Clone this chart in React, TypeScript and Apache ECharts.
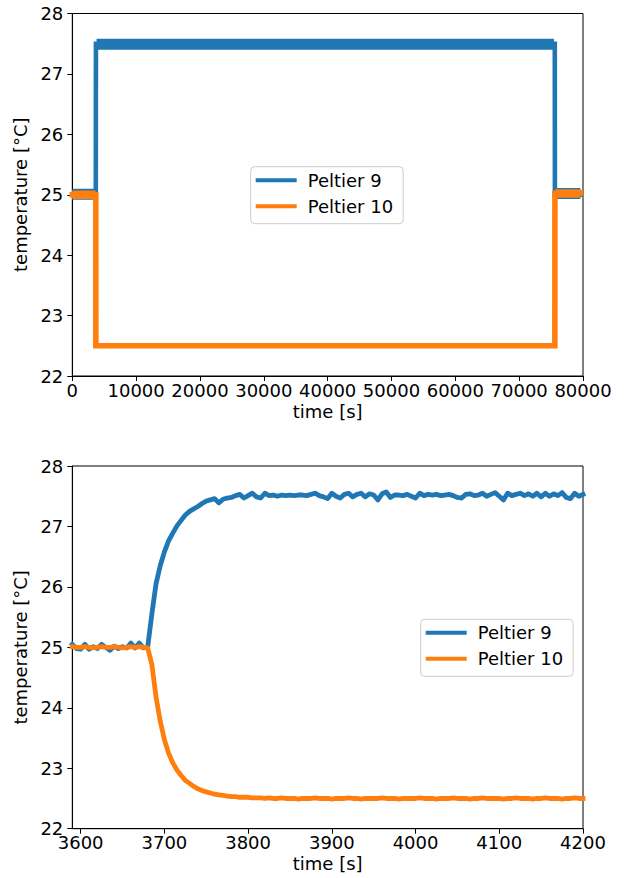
import React, { useEffect, useRef } from "react";
import * as echarts from "echarts";

const FONT = '"DejaVu Sans", sans-serif';
const BLUE = "#1f77b4";
const ORANGE = "#ff7f0e";

// ---------- overview (top) ----------
const OVERVIEW_X_TICKS_INTERVAL = 10000;
const P9_OVERVIEW_T = [0, 3680, 3700, 75580, 75600, 79600];
const P9_OVERVIEW_V = [25.0, 25.0, 27.5, 27.5, 25.0, 25.0];
// noise band (thickness of the noisy trace)
const P9_BAND_T = [0, 3600, 3700, 3800, 75450, 75600, 75750, 79600];
const P9_BAND_V = [25.01, 25.01, null, 27.49, 27.49, null, 25.02, 25.02];

const P10_OVERVIEW_T = [0, 3680, 3690, 75590, 75600, 79600];
const P10_OVERVIEW_V = [25.0, 25.0, 22.5, 22.5, 25.02, 25.03];
const P10_BAND_T = [0, 3640, 3700, 75640, 79600];
const P10_BAND_V = [25.0, 25.0, null, 25.02, 25.02];

// ---------- detail (bottom) ----------
const DETAIL_X_TICKS = [3600, 3700, 3800, 3900, 4000, 4100, 4200];
const DETAIL_T = [
  3590, 3595, 3600, 3605, 3610, 3615, 3620, 3625, 3630, 3635,
  3640, 3645, 3650, 3655, 3660, 3665, 3670, 3675, 3680, 3685,
  3690, 3695, 3700, 3705, 3710, 3715, 3720, 3725, 3730, 3735,
  3740, 3745, 3750, 3755, 3760, 3765, 3770, 3775, 3780, 3785,
  3790, 3795,
  3800, 3805, 3810, 3815, 3820, 3825, 3830, 3835, 3840, 3845,
  3850, 3855, 3860, 3865, 3870, 3875, 3880, 3885, 3890, 3895,
  3900, 3905, 3910, 3915, 3920, 3925, 3930, 3935, 3940, 3945,
  3950, 3955, 3960, 3965, 3970, 3975, 3980, 3985, 3990, 3995,
  4000, 4005, 4010, 4015, 4020, 4025, 4030, 4035, 4040, 4045,
  4050, 4055, 4060, 4065, 4070, 4075, 4080, 4085, 4090, 4095,
  4100, 4105, 4110, 4115, 4120, 4125, 4130, 4135, 4140, 4145,
  4150, 4155, 4160, 4165, 4170, 4175, 4180, 4185, 4190, 4195,
  4200,
];
const P9_DETAIL = [
  25.05, 24.98, 24.97, 25.05, 24.97, 25.01, 24.98, 25.05, 25.0, 24.95,
  25.02, 24.98, 25.01, 24.99, 25.07, 24.99, 25.07, 24.99, 25.0, 25.55,
  26.05, 26.35, 26.58, 26.76, 26.89, 27.01, 27.1, 27.19, 27.25, 27.29,
  27.33, 27.38, 27.42, 27.44, 27.46, 27.39, 27.45, 27.47, 27.48, 27.51,
  27.53, 27.47,
  27.51, 27.55, 27.49, 27.47, 27.55, 27.51, 27.52, 27.5, 27.52, 27.51,
  27.52, 27.51, 27.52, 27.52, 27.51, 27.53, 27.55, 27.51, 27.49, 27.46,
  27.55, 27.5, 27.47, 27.53, 27.55, 27.49, 27.53, 27.55, 27.49, 27.54,
  27.52, 27.44, 27.54, 27.57, 27.48, 27.52, 27.52, 27.51, 27.53, 27.5,
  27.47, 27.55, 27.51, 27.53, 27.52, 27.53, 27.51, 27.52, 27.53, 27.51,
  27.48, 27.47, 27.53, 27.54, 27.51, 27.52, 27.55, 27.5, 27.53, 27.56,
  27.5, 27.44, 27.55, 27.51, 27.53, 27.55, 27.51, 27.54, 27.5, 27.55,
  27.49, 27.55, 27.5, 27.54, 27.51, 27.56, 27.48, 27.46, 27.55, 27.5,
  27.53,
];
const P10_DETAIL = [
  25.01, 25.0, 25.0, 25.01, 25.0, 24.99, 25.0, 25.01, 25.0, 25.0,
  25.01, 25.0, 24.99, 25.0, 25.01, 25.0, 25.01, 25.0, 24.99, 24.72,
  24.18, 23.78, 23.47, 23.25, 23.09, 22.97, 22.88, 22.8, 22.75, 22.7,
  22.66, 22.63, 22.61, 22.59, 22.57, 22.56, 22.55, 22.54, 22.53, 22.53,
  22.52, 22.52,
  22.52, 22.51, 22.51, 22.51, 22.5, 22.51, 22.5, 22.5, 22.51, 22.5,
  22.5, 22.5, 22.49, 22.5, 22.5, 22.5, 22.51, 22.5, 22.5, 22.5,
  22.49, 22.5, 22.5, 22.5, 22.51, 22.5, 22.5, 22.49, 22.5, 22.5,
  22.5, 22.5, 22.51, 22.5, 22.5, 22.5, 22.49, 22.5, 22.5, 22.5,
  22.5, 22.51, 22.5, 22.5, 22.5, 22.49, 22.5, 22.5, 22.5, 22.51,
  22.5, 22.5, 22.5, 22.49, 22.5, 22.5, 22.51, 22.5, 22.5, 22.5,
  22.5, 22.49, 22.5, 22.5, 22.51, 22.5, 22.5, 22.5, 22.49, 22.5,
  22.5, 22.51, 22.5, 22.5, 22.5, 22.49, 22.5, 22.5, 22.51, 22.5,
  22.5,
];

const LEGEND_NAMES = ["Peltier 9", "Peltier 10"];
const Y_LABEL = "temperature [°C]";
const X_LABEL = "time [s]";

function pairs(t: number[], v: (number | null)[]) {
  return t.map((x, i) => [x, v[i] === null ? "-" : v[i]]);
}

const textBase = { fontFamily: FONT, fontSize: 18, color: "#000" };
const plainNum = (v: number) => String(Math.round(v));

function xAxisCfg(gridIndex: number, extra: any) {
  return {
    type: "value",
    gridIndex,
    name: X_LABEL,
    nameLocation: "middle",
    nameGap: 26,
    nameTextStyle: { ...textBase },
    axisLine: { show: true, onZero: false, lineStyle: { color: "#000", width: 1 } },
    axisTick: { show: true, inside: false, length: 5, lineStyle: { color: "#000", width: 1 } },
    axisLabel: { ...textBase, margin: 5, showMinLabel: true, showMaxLabel: true, formatter: plainNum },
    splitLine: { show: false },
    ...extra,
  };
}

function yAxisCfg(gridIndex: number) {
  return {
    type: "value",
    gridIndex,
    min: 22,
    max: 28,
    interval: 1,
    name: Y_LABEL,
    nameLocation: "middle",
    nameGap: 34,
    nameRotate: 90,
    nameTextStyle: { ...textBase },
    axisLine: { show: true, onZero: false, lineStyle: { color: "#000", width: 1 } },
    axisTick: { show: true, inside: false, length: 5, lineStyle: { color: "#000", width: 1 } },
    axisLabel: { ...textBase, margin: 9, formatter: plainNum },
    splitLine: { show: false },
  };
}

function legendCfg(left: number, top: number) {
  return {
    show: true,
    orient: "vertical",
    left,
    top,
    data: LEGEND_NAMES,
    icon: "rect",
    itemWidth: 41,
    itemHeight: 4,
    itemGap: 5,
    padding: [3, 10, 7, 5],
    backgroundColor: "rgba(255,255,255,0.8)",
    borderColor: "#cccccc",
    borderWidth: 1,
    borderRadius: 4,
    selectedMode: false,
    textStyle: { ...textBase, lineHeight: 21, padding: [0, 0, 0, 6] },
  };
}

function lineSeries(name: string, color: string, data: any[], xi: number, width: number, extra: any = {}) {
  return {
    type: "line",
    name,
    xAxisIndex: xi,
    yAxisIndex: xi,
    data,
    color,
    showSymbol: false,
    symbol: "none",
    clip: true,
    connectNulls: false,
    itemStyle: { color },
    lineStyle: { color, width, cap: "square", join: "round" },
    emphasis: { disabled: true },
    ...extra,
  };
}

export default function App() {
  const ref = useRef<HTMLDivElement>(null);
  useEffect(() => {
    document.body.style.margin = "0";
    if (!ref.current) return;
    const chart = echarts.init(ref.current, null, { renderer: "svg" });
    const option = {
      animation: false,
      backgroundColor: "#ffffff",
      grid: [
        { left: 72.3, top: 13.5, width: 510.7, height: 362.5, show: true, borderColor: "#000", borderWidth: 1, backgroundColor: "transparent" },
        { left: 72.3, top: 466, width: 510.7, height: 362.7, show: true, borderColor: "#000", borderWidth: 1, backgroundColor: "transparent" },
      ],
      xAxis: [
        xAxisCfg(0, { min: 0, max: 80000, interval: OVERVIEW_X_TICKS_INTERVAL }),
        xAxisCfg(1, {
          min: 3590,
          max: 4200,
          axisTick: { show: true, inside: false, length: 5, lineStyle: { color: "#000", width: 1 }, customValues: DETAIL_X_TICKS },
          axisLabel: { ...textBase, margin: 5, formatter: plainNum, customValues: DETAIL_X_TICKS },
        }),
      ],
      yAxis: [yAxisCfg(0), yAxisCfg(1)],
      legend: [legendCfg(250.7, 166.7), legendCfg(420.7, 619.3)],
      series: [
        lineSeries("_p9band", BLUE, pairs(P9_BAND_T, P9_BAND_V), 0, 11, { lineStyle: { color: BLUE, width: 11, cap: "butt", join: "miter" } }),
        lineSeries("Peltier 9", BLUE, pairs(P9_OVERVIEW_T, P9_OVERVIEW_V), 0, 4.6, { lineStyle: { color: BLUE, width: 4.6, cap: "square", join: "miter" } }),
        lineSeries("_p10band", ORANGE, pairs(P10_BAND_T, P10_BAND_V), 0, 8.5, { lineStyle: { color: ORANGE, width: 8.5, cap: "butt", join: "miter" } }),
        lineSeries("Peltier 10", ORANGE, pairs(P10_OVERVIEW_T, P10_OVERVIEW_V), 0, 5.6, { lineStyle: { color: ORANGE, width: 5.6, cap: "square", join: "miter" } }),
        lineSeries("Peltier 9", BLUE, pairs(DETAIL_T, P9_DETAIL), 1, 4.8),
        lineSeries("Peltier 10", ORANGE, pairs(DETAIL_T, P10_DETAIL), 1, 4.8),
      ],
    };
    chart.setOption(option as any);
    return () => chart.dispose();
  }, []);
  return <div ref={ref} style={{ width: 625, height: 878 }} />;
}
